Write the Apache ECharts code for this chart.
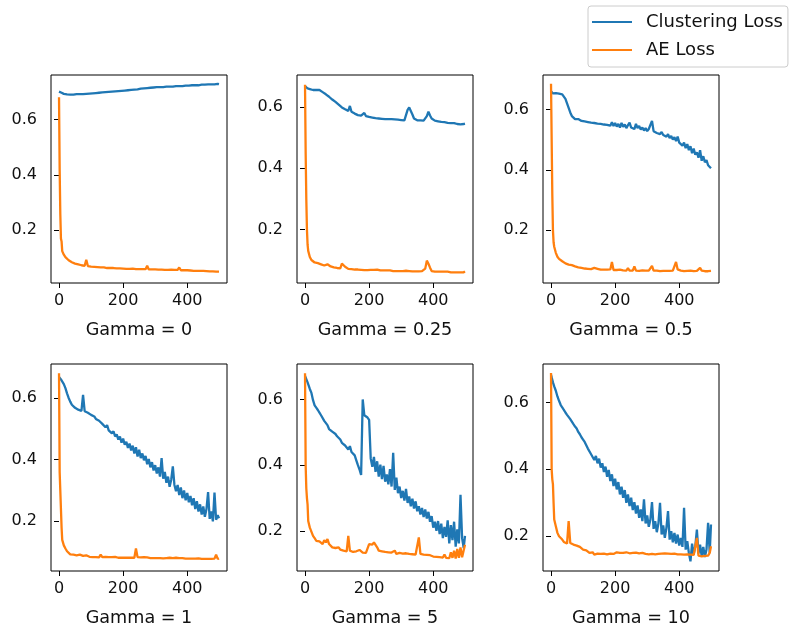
<!DOCTYPE html>
<html>
<head>
<meta charset="utf-8">
<script src="https://cdn.jsdelivr.net/npm/echarts@6/dist/echarts.min.js"></script>
<style>
html,body{margin:0;padding:0;background:#fff;}
#chart{width:795px;height:628px;}
</style>
</head>
<body>
<div id="chart"></div>
<script>
// ---- data ----
const epochs = [0,2,4,6,8,
10,15,20,25,30,35,40,45,50,55,
60,65,70,75,80,85,90,95,100,105,
110,115,120,125,130,135,140,145,150,155,
160,165,170,175,180,185,190,195,200,205,
210,215,220,225,230,235,240,245,250,255,
260,265,270,275,280,285,290,295,300,305,
310,315,320,325,330,335,340,345,350,355,
360,365,370,375,380,385,390,395,400,405,
410,415,420,425,430,435,440,445,450,455,
460,465,470,475,480,485,490,495,499];

const gammaLabels = ['Gamma = 0','Gamma = 0.25','Gamma = 0.5','Gamma = 1','Gamma = 5','Gamma = 10'];
const xTicks = [0,200,400];
const yTicks = [0.2,0.4,0.6];

const clus0 = [0.700,0.703,0.702,0.698,0.696,
0.694,0.692,0.691,0.690,0.691,0.689,0.690,0.689,0.690,0.691,
0.690,0.691,0.692,0.691,0.693,0.692,0.694,0.693,0.695,0.694,
0.696,0.695,0.697,0.696,0.698,0.697,0.699,0.698,0.700,0.699,
0.701,0.700,0.702,0.701,0.703,0.702,0.704,0.703,0.705,0.704,
0.706,0.705,0.707,0.706,0.708,0.707,0.709,0.708,0.710,0.711,
0.710,0.712,0.711,0.713,0.712,0.714,0.713,0.715,0.714,0.716,
0.715,0.716,0.717,0.716,0.717,0.718,0.717,0.718,0.719,0.718,
0.719,0.720,0.719,0.720,0.721,0.720,0.721,0.722,0.721,0.722,
0.722,0.723,0.722,0.723,0.724,0.723,0.724,0.725,0.724,0.725,
0.725,0.726,0.725,0.726,0.727,0.726,0.727,0.728,0.727];
const ae0 = [0.680,0.420,0.260,0.170,0.160,
0.125,0.112,0.103,0.097,0.092,0.088,0.085,0.083,0.080,0.078,
0.077,0.075,0.074,0.073,0.072,0.094,0.071,0.070,0.069,0.068,
0.068,0.067,0.067,0.066,0.066,0.065,0.066,0.065,0.064,0.064,
0.064,0.063,0.064,0.063,0.063,0.062,0.063,0.062,0.062,0.062,
0.061,0.062,0.061,0.061,0.062,0.061,0.060,0.061,0.060,0.060,
0.060,0.061,0.060,0.072,0.059,0.060,0.059,0.059,0.059,0.058,
0.058,0.059,0.058,0.058,0.057,0.058,0.057,0.057,0.058,0.057,
0.057,0.056,0.057,0.066,0.056,0.056,0.056,0.055,0.056,0.055,
0.055,0.055,0.054,0.055,0.054,0.054,0.054,0.053,0.054,0.053,
0.053,0.053,0.052,0.053,0.052,0.052,0.051,0.051,0.051];

const clus025 = [0.668,0.664,0.662,0.663,0.660,
0.660,0.658,0.656,0.655,0.654,0.655,0.654,0.655,0.652,0.648,
0.645,0.641,0.636,0.633,0.628,0.624,0.620,0.616,0.611,0.607,
0.603,0.598,0.595,0.592,0.589,0.587,0.603,0.584,0.580,0.578,
0.575,0.573,0.572,0.571,0.569,0.580,0.570,0.568,0.567,0.566,
0.565,0.565,0.563,0.564,0.562,0.563,0.561,0.562,0.560,0.561,
0.560,0.559,0.560,0.558,0.559,0.557,0.558,0.556,0.557,0.555,
0.556,0.556,0.590,0.598,0.592,0.575,0.562,0.558,0.556,0.555,
0.556,0.554,0.555,0.556,0.570,0.584,0.572,0.562,0.557,0.555,
0.554,0.553,0.552,0.551,0.552,0.550,0.549,0.548,0.549,0.547,
0.546,0.547,0.545,0.544,0.546,0.543,0.548,0.544,0.545];
const ae025 = [0.672,0.450,0.300,0.200,0.150,
0.130,0.110,0.100,0.095,0.092,0.098,0.090,0.095,0.086,0.083,
0.082,0.080,0.086,0.082,0.079,0.077,0.076,0.075,0.074,0.074,
0.073,0.088,0.090,0.078,0.072,0.071,0.071,0.070,0.070,0.069,
0.070,0.069,0.068,0.068,0.069,0.067,0.068,0.067,0.067,0.068,
0.067,0.068,0.072,0.069,0.066,0.066,0.067,0.066,0.065,0.066,
0.065,0.066,0.065,0.064,0.065,0.064,0.066,0.064,0.065,0.064,
0.064,0.065,0.063,0.064,0.066,0.063,0.064,0.063,0.064,0.063,
0.063,0.064,0.063,0.072,0.098,0.088,0.075,0.064,0.063,0.062,
0.063,0.062,0.063,0.062,0.061,0.062,0.061,0.062,0.061,0.060,
0.061,0.060,0.061,0.060,0.059,0.060,0.059,0.060,0.063];

const clus05 = [0.660,0.655,0.657,0.653,0.655,
0.652,0.654,0.651,0.652,0.650,0.650,0.645,0.635,0.620,0.605,
0.590,0.578,0.572,0.568,0.567,0.568,0.565,0.562,0.563,0.560,
0.561,0.558,0.560,0.556,0.558,0.555,0.557,0.553,0.555,0.552,
0.554,0.550,0.552,0.549,0.551,0.546,0.558,0.545,0.555,0.543,
0.552,0.540,0.555,0.542,0.550,0.538,0.548,0.556,0.540,0.546,
0.535,0.552,0.538,0.545,0.533,0.540,0.530,0.538,0.528,0.535,
0.530,0.562,0.528,0.532,0.522,0.528,0.518,0.525,0.515,0.520,
0.510,0.518,0.505,0.512,0.500,0.508,0.495,0.510,0.490,0.495,
0.480,0.490,0.472,0.485,0.465,0.478,0.455,0.470,0.450,0.458,
0.440,0.465,0.430,0.445,0.425,0.432,0.415,0.420,0.405];
const ae05 = [0.685,0.500,0.320,0.200,0.160,
0.145,0.125,0.112,0.105,0.100,0.097,0.094,0.090,0.088,0.086,
0.090,0.084,0.088,0.080,0.078,0.077,0.076,0.075,0.074,0.073,
0.073,0.072,0.074,0.071,0.071,0.075,0.070,0.072,0.070,0.069,
0.070,0.069,0.071,0.069,0.068,0.070,0.095,0.068,0.067,0.068,
0.067,0.069,0.066,0.067,0.068,0.066,0.074,0.066,0.067,0.066,
0.080,0.066,0.067,0.065,0.066,0.067,0.065,0.066,0.065,0.066,
0.065,0.082,0.066,0.065,0.066,0.065,0.064,0.066,0.065,0.070,
0.065,0.066,0.065,0.064,0.066,0.072,0.095,0.070,0.065,0.066,
0.065,0.064,0.066,0.065,0.064,0.066,0.065,0.064,0.070,0.065,
0.064,0.075,0.066,0.065,0.064,0.065,0.064,0.064,0.065];

const clus1 = [0.668,0.665,0.662,0.660,0.657,
0.654,0.645,0.632,0.615,0.600,0.588,0.578,0.572,0.568,0.565,
0.562,0.560,0.558,0.610,0.557,0.555,0.552,0.548,0.545,0.543,
0.540,0.532,0.536,0.526,0.528,0.516,0.522,0.505,0.512,0.495,
0.500,0.485,0.492,0.475,0.482,0.465,0.475,0.455,0.468,0.448,
0.458,0.438,0.452,0.430,0.445,0.420,0.440,0.410,0.432,0.405,
0.420,0.398,0.412,0.385,0.402,0.375,0.392,0.365,0.382,0.355,
0.375,0.345,0.405,0.338,0.360,0.325,0.345,0.312,0.335,0.378,
0.318,0.298,0.318,0.285,0.310,0.275,0.300,0.268,0.292,0.262,
0.282,0.252,0.275,0.240,0.265,0.232,0.255,0.222,0.248,0.215,
0.240,0.295,0.208,0.232,0.200,0.293,0.205,0.220,0.210];
const ae1 = [0.680,0.360,0.300,0.240,0.180,
0.140,0.122,0.112,0.103,0.097,0.093,0.090,0.092,0.088,0.090,
0.087,0.092,0.086,0.088,0.085,0.090,0.086,0.085,0.087,0.084,
0.086,0.084,0.085,0.083,0.092,0.084,0.083,0.085,0.083,0.084,
0.083,0.084,0.082,0.085,0.083,0.082,0.084,0.082,0.083,0.082,
0.083,0.082,0.084,0.082,0.083,0.082,0.112,0.084,0.082,0.083,
0.082,0.084,0.081,0.083,0.082,0.081,0.083,0.081,0.082,0.081,
0.083,0.081,0.082,0.080,0.082,0.081,0.080,0.082,0.080,0.081,
0.080,0.082,0.080,0.081,0.079,0.081,0.080,0.079,0.081,0.079,
0.080,0.079,0.081,0.079,0.078,0.080,0.079,0.078,0.080,0.078,
0.079,0.078,0.080,0.078,0.077,0.079,0.092,0.078,0.080];

const clus5 = [0.672,0.668,0.662,0.657,0.652,
0.646,0.632,0.620,0.598,0.582,0.575,0.568,0.560,0.552,0.548,
0.535,0.530,0.522,0.510,0.515,0.502,0.505,0.495,0.488,0.482,
0.478,0.468,0.472,0.460,0.455,0.448,0.458,0.440,0.435,0.430,
0.415,0.400,0.387,0.370,0.600,0.552,0.548,0.545,0.538,0.420,
0.395,0.425,0.380,0.412,0.365,0.402,0.358,0.398,0.350,0.372,
0.342,0.388,0.335,0.438,0.325,0.362,0.315,0.335,0.300,0.322,
0.292,0.328,0.285,0.305,0.275,0.298,0.268,0.290,0.260,0.275,
0.250,0.270,0.242,0.265,0.238,0.258,0.228,0.245,0.210,0.228,
0.200,0.230,0.190,0.222,0.178,0.212,0.182,0.232,0.162,0.218,
0.172,0.228,0.152,0.205,0.162,0.310,0.178,0.148,0.185];
const ae5 = [0.680,0.400,0.330,0.300,0.280,
0.230,0.210,0.205,0.185,0.178,0.170,0.165,0.168,0.162,0.160,
0.172,0.165,0.175,0.160,0.158,0.150,0.155,0.148,0.145,0.150,
0.143,0.148,0.140,0.145,0.138,0.185,0.140,0.142,0.136,0.140,
0.138,0.135,0.142,0.136,0.134,0.140,0.133,0.137,0.160,0.165,
0.158,0.165,0.160,0.150,0.140,0.135,0.138,0.133,0.136,0.132,
0.135,0.131,0.134,0.130,0.140,0.130,0.128,0.133,0.129,0.131,
0.128,0.132,0.127,0.130,0.126,0.129,0.125,0.128,0.126,0.180,
0.130,0.125,0.128,0.124,0.127,0.123,0.126,0.124,0.122,0.125,
0.121,0.124,0.120,0.123,0.119,0.128,0.118,0.122,0.117,0.135,
0.118,0.140,0.116,0.145,0.118,0.150,0.120,0.115,0.158];

const clus10 = [0.683,0.675,0.668,0.660,0.655,
0.648,0.635,0.618,0.605,0.593,0.585,0.578,0.570,0.563,0.558,
0.550,0.545,0.535,0.528,0.522,0.512,0.505,0.496,0.489,0.482,
0.472,0.462,0.458,0.445,0.448,0.428,0.440,0.418,0.432,0.405,
0.418,0.392,0.408,0.378,0.398,0.365,0.385,0.350,0.372,0.340,
0.362,0.325,0.348,0.315,0.338,0.300,0.325,0.290,0.315,0.278,
0.302,0.268,0.292,0.255,0.280,0.245,0.310,0.238,0.262,0.228,
0.250,0.302,0.222,0.245,0.212,0.238,0.300,0.205,0.232,0.195,
0.225,0.275,0.190,0.215,0.182,0.210,0.178,0.205,0.172,0.195,
0.168,0.285,0.160,0.185,0.150,0.125,0.178,0.145,0.170,0.220,
0.148,0.175,0.140,0.168,0.138,0.160,0.240,0.150,0.235];
const ae10 = [0.688,0.400,0.370,0.355,0.300,
0.250,0.230,0.210,0.200,0.195,0.190,0.183,0.180,0.178,0.245,
0.180,0.182,0.175,0.178,0.172,0.170,0.168,0.165,0.160,0.162,
0.158,0.155,0.150,0.148,0.152,0.145,0.150,0.148,0.153,0.147,
0.150,0.148,0.152,0.146,0.150,0.148,0.151,0.147,0.149,0.152,
0.148,0.150,0.146,0.150,0.148,0.152,0.147,0.149,0.146,0.150,
0.148,0.151,0.147,0.149,0.146,0.150,0.148,0.147,0.150,0.146,
0.149,0.147,0.150,0.146,0.149,0.147,0.145,0.148,0.146,0.149,
0.145,0.148,0.144,0.147,0.145,0.148,0.144,0.146,0.143,0.146,
0.143,0.145,0.142,0.146,0.143,0.145,0.141,0.144,0.142,0.195,
0.142,0.144,0.140,0.143,0.141,0.145,0.142,0.150,0.170];

const clusteringSeries = [clus0, clus025, clus05, clus1, clus5, clus10];
const aeSeries = [ae0, ae025, ae05, ae1, ae5, ae10];

// ---- layout / styling ----
const FONT = 'DejaVu Sans';
const BLUE = '#1f77b4', ORANGE = '#ff7f0e';
const lefts = [51, 297, 543];
const tops = [75, 364];
const PW = 176, PH = 208;
const yExtents = [[0.010,0.760],[0.025,0.704],[0.025,0.714],[0.039,0.710],[0.078,0.708],[0.096,0.715]];

const grids = [], xAxes = [], yAxes = [], series = [];
for (let i = 0; i < 6; i++) {
  const r = Math.floor(i / 3), c = i % 3;
  grids.push({left: lefts[c], top: tops[r], width: PW, height: PH,
    show: true, borderColor: '#000', borderWidth: 1, backgroundColor: 'transparent', containLabel: false});
  xAxes.push({type: 'value', gridIndex: i, min: -25, max: 524,
    name: gammaLabels[i], nameLocation: 'middle', nameGap: 38,
    nameTextStyle: {fontFamily: FONT, fontSize: 17.6, color: '#111'},
    axisLine: {show: false},
    axisTick: {show: true, length: 5, customValues: xTicks, lineStyle: {color: '#000', width: 1}},
    axisLabel: {show: true, customValues: xTicks, margin: 10, fontFamily: FONT, fontSize: 16, color: '#111'},
    splitLine: {show: false}});
  yAxes.push({type: 'value', gridIndex: i, min: yExtents[i][0], max: yExtents[i][1],
    axisLine: {show: false},
    axisTick: {show: true, length: 5, customValues: yTicks, lineStyle: {color: '#000', width: 1}},
    axisLabel: {show: true, customValues: yTicks, margin: 14, fontFamily: FONT, fontSize: 16, color: '#111',
      formatter: v => v.toFixed(1)},
    splitLine: {show: false}});
  series.push({type: 'line', name: 'Clustering Loss', xAxisIndex: i, yAxisIndex: i,
    data: epochs.map((e, k) => [e, clusteringSeries[i][k]]),
    showSymbol: false, symbol: 'none', color: BLUE, lineStyle: {color: BLUE, width: 2.3}, z: 2});
  series.push({type: 'line', name: 'AE Loss', xAxisIndex: i, yAxisIndex: i,
    data: epochs.map((e, k) => [e, aeSeries[i][k]]),
    showSymbol: false, symbol: 'none', color: ORANGE, lineStyle: {color: ORANGE, width: 2.3}, z: 3});
}

const chart = echarts.init(document.getElementById('chart'), null, {renderer: 'canvas'});
chart.setOption({
  animation: false,
  backgroundColor: '#fff',
  grid: grids, xAxis: xAxes, yAxis: yAxes, series: series,
  legend: {
    orient: 'vertical', left: 588, top: 6,
    data: [{name: 'Clustering Loss', icon: 'rect'}, {name: 'AE Loss', icon: 'rect'}],
    itemWidth: 40, itemHeight: 2, itemGap: 8,
    padding: [6, 5, 7, 4],
    borderColor: '#cccccc', borderWidth: 1, borderRadius: 3,
    selectedMode: false,
    textStyle: {fontFamily: FONT, fontSize: 18, color: '#111', lineHeight: 20, padding: [0, 0, 0, 9]}
  }
});
</script>
</body>
</html>
